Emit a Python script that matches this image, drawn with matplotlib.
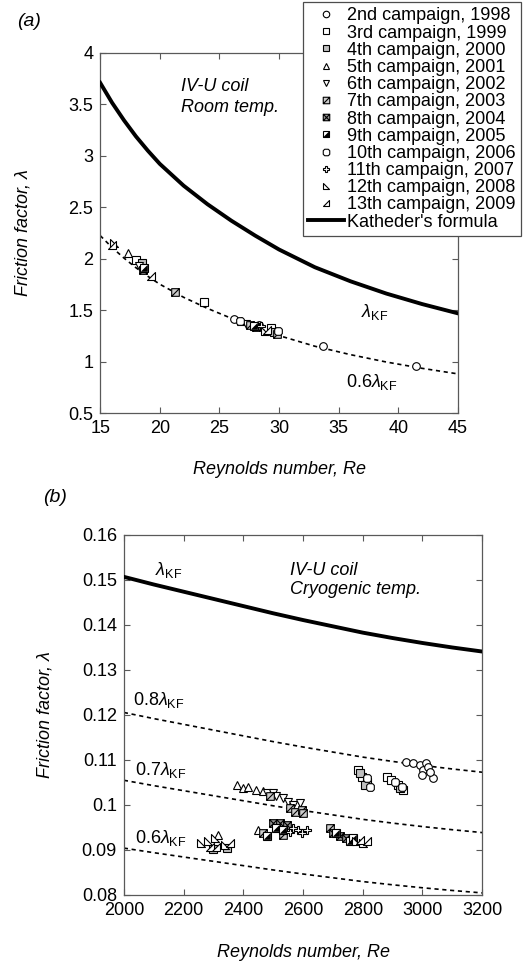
import matplotlib
matplotlib.use("Agg")
import matplotlib.pyplot as plt
from matplotlib.path import Path
from matplotlib.legend_handler import HandlerTuple
from matplotlib.ticker import FuncFormatter, MultipleLocator

plt.rcParams['font.family'] = ['Liberation Sans', 'DejaVu Sans']
plt.rcParams['mathtext.fontset'] = 'custom'
plt.rcParams['mathtext.rm'] = 'Liberation Sans'
plt.rcParams['mathtext.it'] = 'Liberation Sans:italic'

# ---- data ----
CAMPAIGNS = ["2nd campaign, 1998", "3rd campaign, 1999", "4th campaign, 2000",
             "5th campaign, 2001", "6th campaign, 2002", "7th campaign, 2003",
             "8th campaign, 2004", "9th campaign, 2005", "10th campaign, 2006",
             "11th campaign, 2007", "12th campaign, 2008", "13th campaign, 2009"]

# Katheder's formula
a_kf_re = [15, 16, 17, 18, 19, 20, 22, 24, 26, 28, 30, 33, 36, 39, 42, 45]
a_kf_lam = [3.71, 3.516, 3.345, 3.189, 3.05, 2.922, 2.71, 2.53, 2.37, 2.225,
            2.09, 1.918, 1.781, 1.662, 1.56, 1.47]
b_kf_re = [2000, 2100, 2200, 2300, 2400, 2500, 2600, 2700, 2800, 2900, 3000, 3100, 3200]
b_kf_lam = [0.1507, 0.1490, 0.1474, 0.1458, 0.1442, 0.1426, 0.1411, 0.1397,
            0.1383, 0.1371, 0.1360, 0.1350, 0.1341]

# (a) room temperature
a_re = [
    [26.2, 28.3, 33.7, 41.5],      # 2nd
    [18.0, 23.7, 29.3],            # 3rd
    [18.5, 29.6],                  # 4th
    [17.3, 26.8],                  # 5th
    [18.3, 27.2],                  # 6th
    [21.3, 27.6, 29.8],            # 7th
    [18.6, 28.1],                  # 8th
    [18.7, 27.9],                  # 9th
    [26.7, 29.9],                  # 10th
    [28.5],                        # 11th
    [16.2, 28.8],                  # 12th
    [16.0, 19.3, 29.0],            # 13th
]
a_lam = [
    [1.42, 1.36, 1.15, 0.955],
    [1.99, 1.58, 1.33],
    [1.96, 1.29],
    [2.06, 1.40],
    [1.93, 1.37],
    [1.68, 1.36, 1.27],
    [1.89, 1.34],
    [1.91, 1.35],
    [1.40, 1.30],
    [1.35],
    [2.15, 1.30],
    [2.13, 1.83, 1.31],
]

# (b) cryogenic temperature
b_re = [
    [2944, 2969, 2993, 3011, 3002, 3019, 3000, 3034, 3025],
    [2785, 2796, 2880, 2896, 2919, 2935],
    [2813, 2807, 2790, 2924, 2300, 2345],
    [2379, 2399, 2416, 2444, 2467, 2316, 2450],
    [2478, 2500, 2534, 2550, 2567, 2589, 2511],
    [2489, 2557, 2573, 2595, 2600, 2467, 2534, 2690],
    [2500, 2522, 2545, 2701, 2723, 2745],
    [2478, 2511, 2534, 2712, 2756, 2768],
    [2824, 2813, 2908, 2930],
    [2556, 2567, 2584, 2612, 2595],
    [2260, 2282, 2305, 2338, 2779, 2801],
    [2288, 2310, 2355, 2813, 2790],
]
b_lam = [
    [0.1096, 0.1093, 0.1089, 0.1094, 0.1078, 0.1084, 0.1067, 0.1061, 0.1073],
    [0.1078, 0.1063, 0.1063, 0.1056, 0.1044, 0.1033],
    [0.1052, 0.1044, 0.1070, 0.1037, 0.0903, 0.0905],
    [0.1044, 0.1037, 0.1041, 0.1033, 0.1030, 0.0933, 0.0944],
    [0.1026, 0.1026, 0.1015, 0.1007, 0.1000, 0.1004, 0.1019],
    [0.1019, 0.0993, 0.0985, 0.0989, 0.0982, 0.0937, 0.0933, 0.0948],
    [0.0959, 0.0959, 0.0956, 0.0937, 0.0930, 0.0926],
    [0.0930, 0.0948, 0.0944, 0.0937, 0.0919, 0.0926],
    [0.1041, 0.1059, 0.1052, 0.1040],
    [0.0941, 0.0948, 0.0944, 0.0944, 0.0937],
    [0.0915, 0.0919, 0.0926, 0.0911, 0.0919, 0.0915],
    [0.0907, 0.0907, 0.0915, 0.0919, 0.0922],
]
DASH_FACTORS_A = [0.6]
DASH_FACTORS_B = [0.8, 0.7, 0.6]

# ---- marker shapes ----
M, L, C = Path.MOVETO, Path.LINETO, Path.CLOSEPOLY
sq_slash = Path([(-1, -1), (1, -1), (1, 1), (-1, 1), (-1, -1), (-1, -1), (1, 1)],
                [M, L, L, L, C, M, L])
sq_cross = Path([(-1, -1), (1, -1), (1, 1), (-1, 1), (-1, -1),
                 (-1, -1), (1, 1), (-1, 1), (1, -1)],
                [M, L, L, L, C, M, L, M, L])
half_tri = Path([(-1, -1), (1, -1), (1, 1), (-1, -1)], [M, L, L, C])
c = 0.45
rnd_sq = Path([(-1 + c, -1), (1 - c, -1), (1, -1 + c), (1, 1 - c), (1 - c, 1),
               (-1 + c, 1), (-1, 1 - c), (-1, -1 + c), (-1 + c, -1)],
              [M, L, L, L, L, L, L, L, C])
tri12 = Path([(-1, 1), (-1, -1), (1, -1), (-1, 1)], [M, L, L, C])
tri13 = Path([(-1, -1), (1, -1), (1, 1), (-1, -1)], [M, L, L, C])

STYLES = [
    dict(marker='o', mfc='white'),
    dict(marker='s', mfc='white'),
    dict(marker='s', mfc='0.75'),
    dict(marker='^', mfc='white'),
    dict(marker='v', mfc='white'),
    dict(marker=sq_slash, mfc='0.8'),
    dict(marker=sq_cross, mfc='0.6'),
    None,  # 9th drawn as two layers
    dict(marker=rnd_sq, mfc='white'),
    dict(marker='P', mfc='white'),
    dict(marker=tri12, mfc='white'),
    dict(marker=tri13, mfc='white'),
]
MS = 5.5


def draw_points(ax, res, lams):
    handles = []
    for i, (x, y) in enumerate(zip(res, lams)):
        if STYLES[i] is None:
            h1, = ax.plot(x, y, ls='none', marker='s', mfc='white', mec='k', mew=0.8, ms=MS)
            h2, = ax.plot(x, y, ls='none', marker=half_tri, mfc='k', mec='k', mew=0.5, ms=MS * 0.9)
            handles.append((h1, h2))
        else:
            h, = ax.plot(x, y, ls='none', mec='k', mew=0.8, ms=MS, **STYLES[i])
            handles.append(h)
    return handles


def style_axes(ax):
    for s in ax.spines.values():
        s.set_color('0.35')
        s.set_linewidth(0.9)
    ax.tick_params(direction='in', top=True, right=True, length=4, width=0.8,
                   color='0.35', labelsize=13, pad=5)
    ax.xaxis.set_major_formatter(FuncFormatter(lambda v, p: f"{v:g}"))
    ax.yaxis.set_major_formatter(FuncFormatter(lambda v, p: f"{v:g}"))


fig = plt.figure(figsize=(5.27, 9.61), dpi=100)
ax1 = fig.add_axes([0.190, 0.570, 0.679, 0.375])
ax2 = fig.add_axes([0.235, 0.0687, 0.680, 0.3746])

# ---- panel (a) ----
kf_line, = ax1.plot(a_kf_re, a_kf_lam, color='k', lw=2.8, zorder=3)
for f in DASH_FACTORS_A:
    ax1.plot(a_kf_re, [f * v for v in a_kf_lam], color='k', lw=1.2,
             dashes=(2.5, 2.2), zorder=2)
handles = draw_points(ax1, a_re, a_lam)
ax1.set_xlim(15, 45)
ax1.set_ylim(0.5, 4)
ax1.xaxis.set_major_locator(MultipleLocator(5))
ax1.yaxis.set_major_locator(MultipleLocator(0.5))
style_axes(ax1)
ax1.set_xlabel("Reynolds number, Re", fontsize=13, style='italic', va='center')
ax1.set_ylabel("Friction factor, λ", fontsize=13, style='italic', va='center')
ax1.xaxis.set_label_coords(0.5, -0.155)
ax1.yaxis.set_label_coords(-0.215, 0.5)
ax1.text(21.8, 3.67, "IV-U coil", fontsize=13, style='italic', va='center')
ax1.text(21.8, 3.47, "Room temp.", fontsize=13, style='italic', va='center')
ax1.text(36.9, 1.48, r"$\lambda_{\mathrm{KF}}$", fontsize=13, va='center')
ax1.text(35.6, 0.80, r"0.6$\lambda_{\mathrm{KF}}$", fontsize=13, va='center')
fig.text(17 / 527, 1 - 22 / 961, "(a)", fontsize=14, style='italic', va='center')

# ---- panel (b) ----
ax2.plot(b_kf_re, b_kf_lam, color='k', lw=2.8, zorder=3)
for f in DASH_FACTORS_B:
    ax2.plot(b_kf_re, [f * v for v in b_kf_lam], color='k', lw=1.2,
             dashes=(2.5, 2.2), zorder=2)
draw_points(ax2, b_re, b_lam)
ax2.set_xlim(2000, 3200)
ax2.set_ylim(0.08, 0.16)
ax2.xaxis.set_major_locator(MultipleLocator(200))
ax2.yaxis.set_major_locator(MultipleLocator(0.01))
style_axes(ax2)
ax2.set_xlabel("Reynolds number, Re", fontsize=13, style='italic', va='center')
ax2.set_ylabel("Friction factor, λ", fontsize=13, style='italic', va='center')
ax2.xaxis.set_label_coords(0.5, -0.161)
ax2.yaxis.set_label_coords(-0.22, 0.5)
ax2.text(2104, 0.1522, r"$\lambda_{\mathrm{KF}}$", fontsize=13, va='center')
ax2.text(2556, 0.1522, "IV-U coil", fontsize=13, style='italic', va='center')
ax2.text(2556, 0.1478, "Cryogenic temp.", fontsize=13, style='italic', va='center')
ax2.text(2030, 0.1233, r"0.8$\lambda_{\mathrm{KF}}$", fontsize=13, va='center')
ax2.text(2037, 0.1078, r"0.7$\lambda_{\mathrm{KF}}$", fontsize=13, va='center')
ax2.text(2037, 0.0927, r"0.6$\lambda_{\mathrm{KF}}$", fontsize=13, va='center')
fig.text(43 / 527, 1 - 497 / 961, "(b)", fontsize=14, style='italic', va='center')

# ---- legend ----
leg = fig.legend(handles + [kf_line], CAMPAIGNS + ["Katheder's formula"],
                 loc='upper right', bbox_to_anchor=(521 / 527, 1 - 2 / 961),
                 fontsize=13, frameon=True, fancybox=False, framealpha=1,
                 edgecolor='0.3', labelspacing=0.01, handlelength=2.0,
                 handletextpad=0.15, borderpad=0.3, borderaxespad=0,
                 markerscale=0.85,
                 handler_map={tuple: HandlerTuple(ndivide=1)})
leg.get_frame().set_linewidth(0.9)

fig.savefig("out.png", dpi=100)
